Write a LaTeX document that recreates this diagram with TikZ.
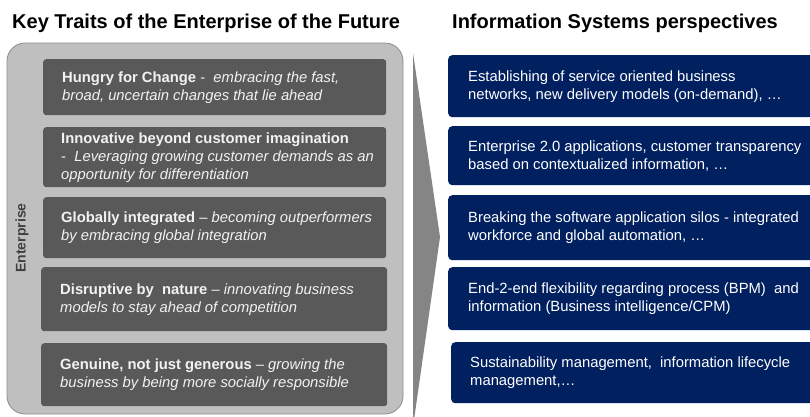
\documentclass[tikz,border=0pt]{standalone}
\usepackage{fontspec}
\setmainfont{Liberation Sans}
\definecolor{contfill}{HTML}{BFBFBF}
\definecolor{contline}{HTML}{8C8C8C}
\definecolor{darkbox}{HTML}{595959}
\definecolor{navy}{HTML}{002060}
\definecolor{arrowgray}{HTML}{858585}
\definecolor{entgray}{HTML}{404040}
\definecolor{lighttext}{HTML}{F2F2F2}
\tikzset{
  trait/.style={fill=darkbox, rounded corners=3pt, inner sep=0pt, anchor=north west},
  persp/.style={fill=navy, rounded corners=4pt, inner sep=0pt, anchor=north west},
  btext/.style={text=lighttext, inner sep=0pt, align=left, anchor=west, font=\fontsize{14.8}{18}\selectfont},
  title/.style={inner sep=0pt, anchor=base west, font=\fontsize{20}{24}\selectfont\bfseries}
}
\begin{document}
\begin{tikzpicture}[x=1pt,y=-1pt]
\useasboundingbox (0,0) rectangle (810,416);
\clip (0,0) rectangle (810,416);
\fill[white] (0,0) rectangle (810,416);

% titles
\node[title] (t1) at (12,28) {Key Traits of the Enterprise of the Future};
\node[title] (t2) at (452,28) {Information Systems perspectives};

% container
\draw[fill=contfill, draw=contline, line width=0.8pt, rounded corners=18pt] (7,43) rectangle (403,414);
\node[rotate=90, text=entgray, font=\fontsize{14}{16}\selectfont\bfseries, inner sep=0pt] (ent) at (22,238) {Enterprise};

% arrow
\fill[arrowgray] (413,53) -- (440,237) -- (414,420) -- (413,420) -- cycle;

% trait boxes
\node[trait, minimum width=343pt, minimum height=56pt] (b1) at (43,59) {};
\node[trait, minimum width=343pt, minimum height=60pt] (b2) at (43,127) {};
\node[trait, minimum width=343pt, minimum height=61pt] (b3) at (43,197) {};
\node[trait, minimum width=346pt, minimum height=64pt] (b4) at (41,267) {};
\node[trait, minimum width=346pt, minimum height=63pt] (b5) at (41,343) {};

\node[btext] (bt1) at ([xshift=19pt]b1.west) {\textbf{Hungry for Change} -\ \ \textit{embracing the fast,}\\\textit{broad, uncertain changes that lie ahead}};
\node[btext] (bt2) at ([xshift=18pt]b2.west) {\textbf{Innovative beyond customer imagination}\\-\ \ \textit{Leveraging growing customer demands as an}\\\textit{opportunity for differentiation}};
\node[btext] (bt3) at ([xshift=18pt]b3.west) {\textbf{Globally integrated} – \textit{becoming outperformers}\\\textit{by embracing global integration}};
\node[btext] (bt4) at ([xshift=19pt]b4.west) {\textbf{Disruptive by\ \ nature} – \textit{innovating business}\\\textit{models to stay ahead of competition}};
\node[btext] (bt5) at ([xshift=19pt]b5.west) {\textbf{Genuine, not just generous} – \textit{growing the}\\\textit{business by being more socially responsible}};

% perspective boxes
\node[persp, minimum width=370pt, minimum height=62pt] (p1) at (448,55) {};
\node[persp, minimum width=370pt, minimum height=59pt] (p2) at (448,126) {};
\node[persp, minimum width=370pt, minimum height=65pt] (p3) at (448,195) {};
\node[persp, minimum width=370pt, minimum height=63pt] (p4) at (448,267) {};
\node[persp, minimum width=370pt, minimum height=61pt] (p5) at (451,342) {};

\node[btext, text=white] (pt1) at ([xshift=20pt]p1.west) {Establishing of service oriented business\\networks, new delivery models (on-demand), …};
\node[btext, text=white] (pt2) at ([xshift=20pt]p2.west) {Enterprise 2.0 applications, customer transparency\\based on contextualized information, …};
\node[btext, text=white] (pt3) at ([xshift=20pt]p3.west) {Breaking the software application silos - integrated\\workforce and global automation, …};
\node[btext, text=white] (pt4) at ([xshift=20pt]p4.west) {End-2-end flexibility regarding process (BPM)\ \ and\\information (Business intelligence/CPM)};
\node[btext, text=white] (pt5) at ([xshift=19pt]p5.west) {Sustainability management,\ \ information lifecycle\\management,…};
\end{tikzpicture}
\end{document}
